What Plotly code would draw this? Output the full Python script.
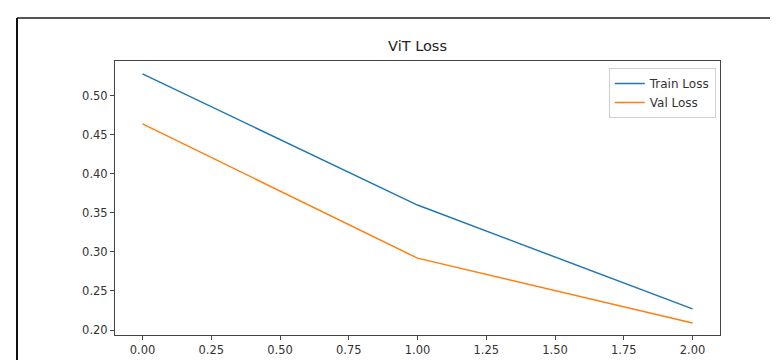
import plotly.graph_objects as go

epochs = [0, 1, 2]
train_loss = [0.528, 0.360, 0.227]
val_loss = [0.464, 0.292, 0.209]
x_ticks = [0, 0.25, 0.5, 0.75, 1.0, 1.25, 1.5, 1.75, 2.0]
y_ticks = [0.20, 0.25, 0.30, 0.35, 0.40, 0.45, 0.50]

fig = go.Figure()
fig.add_trace(go.Scatter(x=epochs, y=train_loss, mode="lines", name="Train Loss",
                         line=dict(color="#1f77b4", width=1.5)))
fig.add_trace(go.Scatter(x=epochs, y=val_loss, mode="lines", name="Val Loss",
                         line=dict(color="#ff7f0e", width=1.5)))

axis_common = dict(showgrid=False, zeroline=False, showline=True, linecolor="#444",
                   linewidth=1, mirror=True, ticks="outside", ticklen=4, tickcolor="#444",
                   tickfont=dict(family="DejaVu Sans", size=11.5, color="#333"))

fig.update_xaxes(range=[-0.1, 2.1], tickvals=x_ticks,
                 ticktext=[f"{v:.2f}" for v in x_ticks], **axis_common)
fig.update_yaxes(range=[0.1936, 0.5445], tickvals=y_ticks,
                 ticktext=[f"{v:.2f}" for v in y_ticks], **axis_common)

fig.update_layout(
    width=778, height=360,
    margin=dict(l=107, r=66, t=53, b=33),
    paper_bgcolor="white", plot_bgcolor="white",
    title=dict(text="ViT Loss", x=0.5, xref="paper", xanchor="center",
               y=1 - 38/360, yref="container", yanchor="middle",
               font=dict(family="DejaVu Sans", size=14.5, color="#222")),
    showlegend=True,
    legend=dict(x=0.993, y=0.974, xanchor="right", yanchor="top",
                bordercolor="#d0d0d0", borderwidth=1, bgcolor="white",
                font=dict(family="DejaVu Sans", size=12, color="#333"),
                itemwidth=30, tracegroupgap=0),
)
# outer screenshot border (top and left)
fig.add_shape(type="line", xref="paper", yref="paper", x0=-98/605, x1=1.2,
              y0=1 + 43/274, y1=1 + 43/274, line=dict(color="#555", width=2))
fig.add_shape(type="line", xref="paper", yref="paper", x0=-98/605, x1=-98/605,
              y0=-0.2, y1=1 + 43/274, line=dict(color="#111", width=2))

fig.write_html("out.html")
